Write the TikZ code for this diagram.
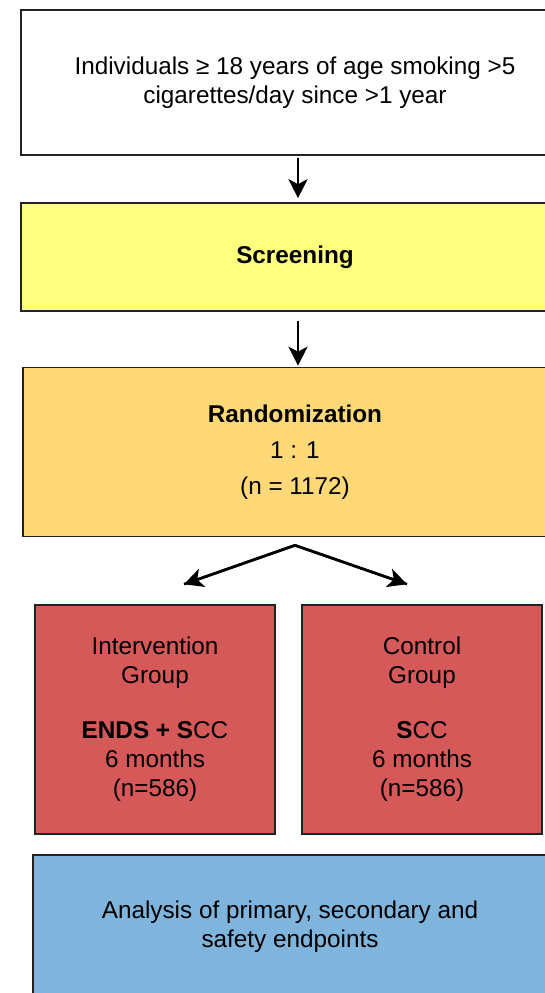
\documentclass[tikz,border=0pt]{standalone}
\usepackage{fontspec}
\setmainfont{Liberation Sans}
\usetikzlibrary{arrows.meta,calc}
\definecolor{cyellow}{RGB}{255,255,128}
\definecolor{corange}{RGB}{255,217,120}
\definecolor{cred}{RGB}{213,89,89}
\definecolor{cblue}{RGB}{127,180,221}
\definecolor{cborder}{RGB}{34,34,34}
\begin{document}
\begin{tikzpicture}[x=1pt,y=-1pt,
  box/.style={draw=cborder,line width=1.6pt,rectangle,align=center,inner sep=0pt,
    font=\fontsize{24.3}{29}\selectfont,text=black},
  arr/.style={-{Stealth[length=19pt,width=19pt,inset=5pt]},line width=2.6pt,black}]
\useasboundingbox (0,0) rectangle (545,993);
\clip (0,0) rectangle (545,993);
\fill[white] (0,0) rectangle (545,993);
\node[box,fill=white,minimum width=548pt,minimum height=145pt] (top) at (295,82.5)
  {\rule{0pt}{5pt}Individuals ≥ 18 years of age smoking >5\\cigarettes/day since >1 year};
\node[box,fill=cyellow,minimum width=548pt,minimum height=108pt] (screen) at (295,257)
  {\textbf{Screening}};
\node[box,fill=corange,minimum width=544pt,minimum height=169pt,
  font=\fontsize{24.3}{36}\selectfont] (rand) at (295,452)
  {\textbf{Randomization}\\1 : 1\\(n = 1172)};
\node[box,fill=cred,minimum width=240pt,minimum height=229pt] (int) at (155,719.5)
  {Intervention\\Group\\[26pt]\textbf{ENDS + S}CC\\6 months\\(n=586)};
\node[box,fill=cred,minimum width=240pt,minimum height=229pt] (ctl) at (422,719.5)
  {Control\\Group\\[26pt]\textbf{S}CC\\6 months\\(n=586)};
\node[box,fill=cblue,minimum width=514pt,minimum height=144pt] (ana) at (290,927)
  {Analysis of primary, secondary and\\safety endpoints};
\coordinate (apex) at ($(rand.south)+(0,8)$);
\coordinate (tipL) at ($(int.north)+(29,-20)$);
\coordinate (tipR) at ($(ctl.north)+(-15,-20)$);
\draw[arr] ($(top.south)+(3,2)$) -- ($(screen.north)+(3,-4)$);
\draw[arr] ($(screen.south)+(3,9)$) -- ($(rand.north)+(3,-1)$);
\draw[line width=2.6pt,line join=miter] (tipL) -- (apex) -- (tipR);
\draw[arr] (apex) -- (tipL);
\draw[arr] (apex) -- (tipR);
\end{tikzpicture}
\end{document}
